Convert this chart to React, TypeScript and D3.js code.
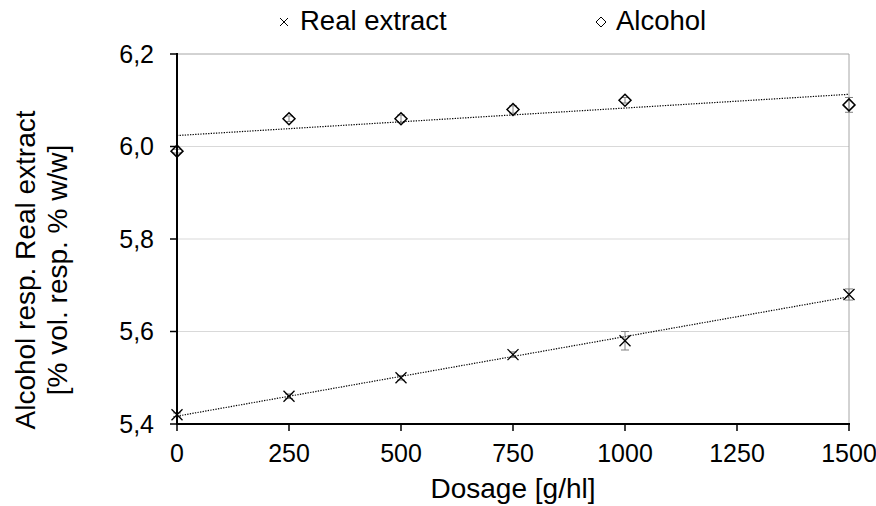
import React from "react";
import * as d3 from "d3";

const dosages = [0, 250, 500, 750, 1000, 1500];
const alcohol = [5.99, 6.06, 6.06, 6.08, 6.1, 6.09];
const alcoholErr = [0.004, 0.006, 0.008, 0.008, 0.006, 0.016];
const realExtract = [5.42, 5.46, 5.5, 5.55, 5.58, 5.68];
const realExtractErr = [0.004, 0.005, 0.005, 0.006, 0.02, 0.012];
const xTicks = [0, 250, 500, 750, 1000, 1250, 1500];
const yTicks = [5.4, 5.6, 5.8, 6.0, 6.2];

const W = 876, H = 506;
const M = { left: 177, right: 27, top: 54, bottom: 82 };
const FONT = "Liberation Sans, Arial, sans-serif";

function regress(xs: number[], ys: number[]) {
  const mx = d3.mean(xs)!, my = d3.mean(ys)!;
  let sxy = 0, sxx = 0;
  xs.forEach((x, i) => { sxy += (x - mx) * (ys[i] - my); sxx += (x - mx) ** 2; });
  const b = sxy / sxx;
  return { a: my - b * mx, b };
}

export default function App() {
  const x = d3.scaleLinear().domain([0, 1500]).range([M.left, W - M.right]);
  const y = d3.scaleLinear().domain([5.4, 6.2]).range([H - M.bottom, M.top]);
  const fmt = (v: number) => v.toFixed(1).replace(".", ",");

  const trend = (ys: number[]) => {
    const { a, b } = regress(dosages, ys);
    const pts: [number, number][] = [[0, a], [1500, a + b * 1500]];
    return d3.line<[number, number]>().x((d) => x(d[0])).y((d) => y(d[1]))(pts) || "";
  };

  const errBars = (vals: number[], errs: number[], key: string) =>
    dosages.map((d, i) => (
      <g key={key + i} stroke="#808080" strokeWidth={1}>
        <line x1={x(d)} x2={x(d)} y1={y(vals[i] - errs[i])} y2={y(vals[i] + errs[i])} />
        <line x1={x(d) - 4} x2={x(d) + 4} y1={y(vals[i] - errs[i])} y2={y(vals[i] - errs[i])} />
        <line x1={x(d) - 4} x2={x(d) + 4} y1={y(vals[i] + errs[i])} y2={y(vals[i] + errs[i])} />
      </g>
    ));

  const diamond = (cx: number, cy: number, r: number, k: string, sw = 1.5) => (
    <path key={k} d={`M${cx},${cy - r}L${cx + r},${cy}L${cx},${cy + r}L${cx - r},${cy}Z`} fill="none" stroke="#000" strokeWidth={sw} />
  );
  const cross = (cx: number, cy: number, r: number, k: string, sw = 1.3) => (
    <path key={k} d={`M${cx - r},${cy - r}L${cx + r},${cy + r}M${cx - r},${cy + r}L${cx + r},${cy - r}`} stroke="#000" strokeWidth={sw} />
  );

  return (
    <svg width={W} height={H} style={{ position: "absolute", left: 0, top: 0, fontFamily: FONT }}>
      <rect width={W} height={H} fill="#fff" />
      {yTicks.filter((t) => t > 5.4).map((t) => (
        <line key={"g" + t} x1={x(0)} x2={x(1500)} y1={y(t)} y2={y(t)} stroke={t === 6.2 ? "#a6a6a6" : "#d9d9d9"} strokeWidth={1} />
      ))}
      <line x1={x(1500)} x2={x(1500)} y1={y(6.2)} y2={y(5.4)} stroke="#a6a6a6" strokeWidth={1} />
      <path d={trend(alcohol)} stroke="#000" strokeWidth={1.2} strokeDasharray="1.3,1.3" fill="none" />
      <path d={trend(realExtract)} stroke="#000" strokeWidth={1.2} strokeDasharray="1.3,1.3" fill="none" />
      {errBars(alcohol, alcoholErr, "ea")}
      {errBars(realExtract, realExtractErr, "er")}
      {dosages.map((d, i) => diamond(x(d), y(alcohol[i]), 6, "d" + i))}
      {dosages.map((d, i) => cross(x(d), y(realExtract[i]), 5.5, "c" + i))}
      <line x1={x(0)} x2={x(0)} y1={y(6.2) - 1} y2={y(5.4) + 1} stroke="#000" strokeWidth={2} />
      <line x1={x(0) - 1} x2={x(1500) + 1} y1={y(5.4)} y2={y(5.4)} stroke="#000" strokeWidth={2} />
      {yTicks.map((t) => (
        <g key={"yt" + t}>
          <line x1={x(0) - 7} x2={x(0)} y1={y(t)} y2={y(t)} stroke="#000" strokeWidth={1.5} />
          <text x={x(0) - 23} y={y(t)} dy="0.35em" textAnchor="end" fontSize={25} fill="#000">{fmt(t)}</text>
        </g>
      ))}
      {xTicks.map((t) => (
        <g key={"xt" + t}>
          <line x1={x(t)} x2={x(t)} y1={y(5.4)} y2={y(5.4) + 7} stroke="#000" strokeWidth={1.5} />
          <text x={x(t)} y={462} textAnchor="middle" fontSize={25} fill="#000">{t}</text>
        </g>
      ))}
      <text x={(x(0) + x(1500)) / 2} y={498} textAnchor="middle" fontSize={28} fill="#000">Dosage [g/hl]</text>
      <g transform={`translate(0,270) rotate(-90)`}>
        <text x={0} y={35} textAnchor="middle" fontSize={28} fill="#000">Alcohol resp. Real extract</text>
        <text x={0} y={67} textAnchor="middle" fontSize={28} fill="#000">[% vol. resp. % w/w]</text>
      </g>
      {cross(284, 22, 4, "lc", 1)}
      <text x={300} y={30} fontSize={27.5} fill="#000">Real extract</text>
      {diamond(601, 22, 5, "ld", 1)}
      <text x={616} y={30} fontSize={27.5} fill="#000">Alcohol</text>
    </svg>
  );
}
